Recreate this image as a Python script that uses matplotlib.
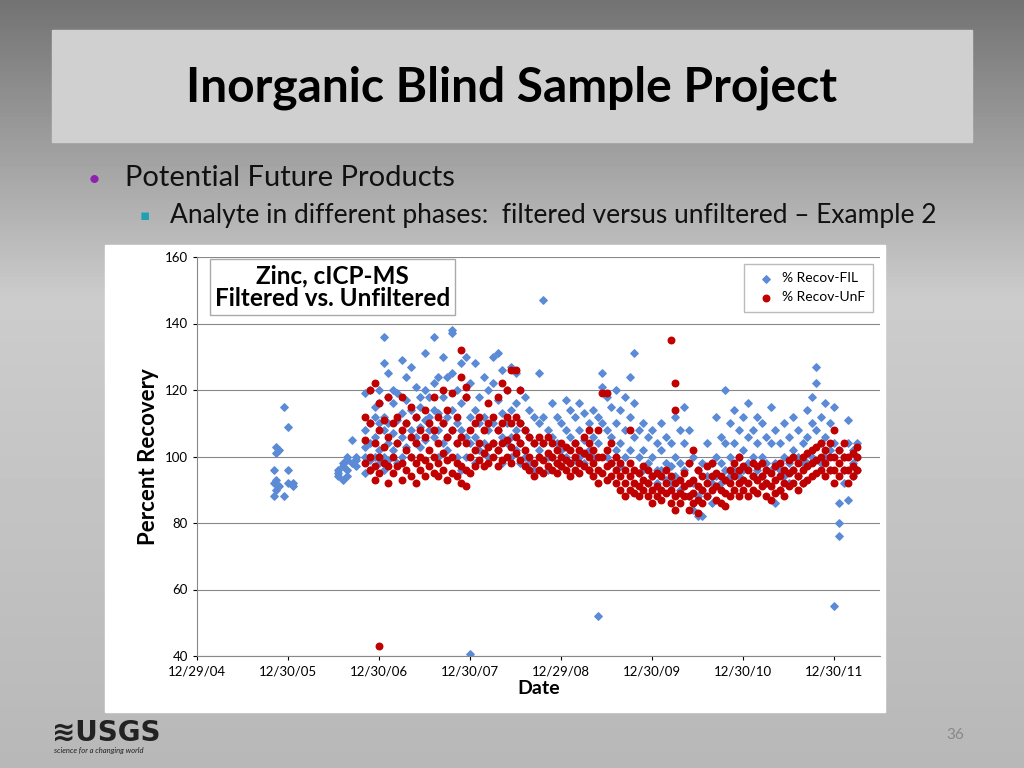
import matplotlib
matplotlib.use("Agg")
import matplotlib.pyplot as plt
import numpy as np
from matplotlib.patches import Rectangle

fil = [
(2005.85,[88,92,96]),(2005.87,[90,93,101,103]),(2005.9,[91,102]),(2005.95,[115,88]),(2006.0,[96,92,109]),(2006.05,[91,92]),
(2006.55,[94,96,95]),(2006.6,[97,93,98]),(2006.65,[100,96,94,99]),(2006.7,[105,98]),(2006.75,[97,99,100]),
(2006.85,[95,100,103,108,119]),(2006.9,[96,104,110,120,99]),(2006.95,[106,112,115,100]),(2007.0,[98,110,116,120,102]),
(2007.05,[136,128,112,108,100,96]),(2007.1,[118,110,104,99,125]),(2007.15,[116,107,102,120]),(2007.2,[119,111,104,98]),
(2007.25,[129,113,106,100]),(2007.3,[124,110,103,117]),(2007.35,[127,114,108,100]),(2007.4,[121,112,106,104]),
(2007.45,[115,109,103,118]),(2007.5,[131,120,111,105]),(2007.55,[118,112,108]),(2007.6,[136,122,114,106]),
(2007.65,[124,113,108,100]),(2007.7,[130,118,110,104]),(2007.75,[124,112,106,102]),(2007.8,[137,138,125,114,108]),
(2007.85,[120,110,104,100]),(2007.9,[128,116,108,96]),(2007.95,[130,118,106,100]),(2008.0,[122,112,104,40.5]),
(2008.05,[128,114,106,98]),(2008.1,[118,110,102]),(2008.15,[124,112,104]),(2008.2,[120,108,100]),
(2008.25,[130,122,110,104]),(2008.3,[131,117,108,102]),(2008.35,[126,113,106,98]),(2008.4,[120,110,104]),
(2008.45,[127,114,106,100]),(2008.5,[125,116,108,102]),(2008.55,[120,110,104,98]),(2008.6,[118,108,100]),
(2008.65,[114,106,98]),(2008.7,[112,104,96]),(2008.75,[125,110,102]),(2008.8,[147,112,104]),(2008.85,[108,100,96]),
(2008.9,[116,106,100]),(2008.95,[112,104,98]),(2009.0,[110,102,97]),(2009.05,[117,108,100]),(2009.1,[114,106,98]),
(2009.15,[112,104,99]),(2009.2,[116,108,100]),(2009.25,[113,105,98]),(2009.3,[110,102,96]),(2009.35,[114,106,100]),
(2009.4,[112,104,52]),(2009.45,[125,121,110]),(2009.5,[118,108,100]),(2009.55,[115,106,98]),(2009.6,[120,110,102]),
(2009.65,[114,104,97]),(2009.7,[118,108,100]),(2009.75,[124,112,102]),(2009.8,[131,116,106]),(2009.85,[108,100,95]),
(2009.9,[110,102,96]),(2009.95,[106,98,92]),(2010.0,[108,100,94]),(2010.05,[104,96,92]),(2010.1,[110,102,96]),
(2010.15,[106,98,93]),(2010.2,[104,97,92]),(2010.25,[112,100,94]),(2010.3,[108,98,90]),(2010.35,[115,104,96]),
(2010.4,[108,98,88]),(2010.45,[100,92,84]),(2010.5,[96,88,82]),(2010.55,[98,90,82]),(2010.6,[104,94,88]),
(2010.65,[98,92,86]),(2010.7,[112,100,94]),(2010.75,[106,98,92]),(2010.8,[120,104,96]),(2010.85,[110,100,94]),
(2010.9,[114,104,96]),(2010.95,[108,100,94]),(2011.0,[112,102,96]),(2011.05,[116,106,98]),(2011.1,[108,100,94]),
(2011.15,[112,104,96]),(2011.2,[110,100,94]),(2011.25,[106,98,92]),(2011.3,[115,104,96]),(2011.35,[108,98,86]),
(2011.4,[104,96,90]),(2011.45,[110,100,94]),(2011.5,[106,98,92]),(2011.55,[112,102,96]),(2011.6,[108,100,94]),
(2011.65,[104,98,92]),(2011.7,[114,106,98]),(2011.75,[118,110,100]),(2011.8,[127,122,108]),(2011.85,[112,104,98]),
(2011.9,[116,106,100]),(2011.95,[110,102,96]),(2012.0,[115,104,55]),(2012.05,[80,76,86,102]),(2012.1,[100,96,92]),
(2012.15,[111,104,87]),(2012.2,[102,98,94]),(2012.25,[104,100,96]),
]
unf = [
(2007.0,[43]),(2006.85,[98,105,112]),(2006.9,[96,100,110,120]),(2006.95,[93,97,104,122]),(2007.0,[95,100,108,116]),
(2007.05,[98,103,111]),(2007.1,[92,97,106,118]),(2007.15,[95,100,110]),(2007.2,[97,104,112]),(2007.25,[93,98,108,118]),
(2007.3,[96,102,110]),(2007.35,[94,100,106,115]),(2007.4,[92,98,104,112]),(2007.45,[96,100,108]),(2007.5,[94,99,106,114]),
(2007.55,[97,102,110]),(2007.6,[95,100,108,118]),(2007.65,[94,98,104,112]),(2007.7,[96,101,110,120]),
(2007.75,[93,99,106,114]),(2007.8,[95,100,108,119]),(2007.85,[94,98,104,112]),(2007.9,[92,97,106,132,124]),
(2007.95,[91,96,104,121,118]),(2008.0,[95,100,108]),(2008.05,[97,102,110]),(2008.1,[99,104,112]),(2008.15,[97,101,108]),
(2008.2,[98,103,110,116]),(2008.25,[100,104,112]),(2008.3,[97,102,108,118]),(2008.35,[99,104,110,122]),
(2008.4,[100,105,112,120]),(2008.45,[98,103,110,126]),(2008.5,[101,106,112,126]),(2008.55,[99,104,110,120]),
(2008.6,[97,102,108]),(2008.65,[96,100,106]),(2008.7,[94,98,104]),(2008.75,[96,100,106]),(2008.8,[95,99,104]),
(2008.85,[97,101,106]),(2008.9,[96,100,104]),(2008.95,[95,98,102]),(2009.0,[97,100,104]),(2009.05,[96,99,103]),
(2009.1,[94,98,102]),(2009.15,[96,100,104]),(2009.2,[95,98,102]),(2009.25,[97,101,106]),(2009.3,[96,100,104,108]),
(2009.35,[94,98,102]),(2009.4,[92,96,100,108]),(2009.45,[95,100,119]),(2009.5,[93,97,102,119]),(2009.55,[94,98,104]),
(2009.6,[92,96,100]),(2009.65,[90,94,98]),(2009.7,[88,92,96]),(2009.75,[90,94,98,108]),(2009.8,[89,92,96]),
(2009.85,[88,91,95]),(2009.9,[90,93,97]),(2009.95,[88,92,96]),(2010.0,[86,90,94]),(2010.05,[88,91,95]),
(2010.1,[87,90,94]),(2010.15,[89,92,96]),(2010.2,[86,90,94,135]),(2010.25,[84,88,92,122,114]),(2010.3,[86,89,93]),
(2010.35,[88,91,95]),(2010.4,[84,88,92,98]),(2010.45,[86,89,93,102]),(2010.5,[83,87,91,96]),(2010.55,[86,90,94]),
(2010.6,[88,92,97]),(2010.65,[90,94,98]),(2010.7,[87,91,95]),(2010.75,[86,90,94]),(2010.8,[85,89,93]),
(2010.85,[88,92,96]),(2010.9,[90,94,98]),(2010.95,[88,92,96,100]),(2011.0,[90,93,97]),(2011.05,[88,92,96]),
(2011.1,[90,94,98]),(2011.15,[89,93,97]),(2011.2,[91,94,98]),(2011.25,[88,92,96]),(2011.3,[87,91,95]),
(2011.35,[89,93,97]),(2011.4,[90,94,98]),(2011.45,[88,92,96]),(2011.5,[91,95,99]),(2011.55,[92,96,100]),
(2011.6,[90,94,98]),(2011.65,[92,96,100]),(2011.7,[93,97,101]),(2011.75,[94,98,102]),(2011.8,[95,99,103]),
(2011.85,[96,100,104]),(2011.9,[94,98,102]),(2011.95,[96,100,104]),(2012.0,[92,96,100,108]),(2012.05,[94,98,102]),
(2012.1,[96,100,104]),(2012.15,[92,96,100]),(2012.2,[94,97,101]),(2012.25,[96,100,103]),
]
tick_pos = [2005,2006,2007,2008,2009,2010,2011,2012]
tick_labels = ["12/29/04","12/30/05","12/30/06","12/30/07","12/29/08","12/30/09","12/30/10","12/30/11"]

def flat(s):
    xs, ys = [], []
    for x, vals in s:
        for v in vals:
            xs.append(x); ys.append(v)
    return xs, ys

plt.rcParams['font.family'] = ['Lato', 'DejaVu Sans']
W, H = 1024, 768
fig = plt.figure(figsize=(10.24, 7.68), dpi=100)
bg = fig.add_axes([0, 0, 1, 1]); bg.set_axis_off()
g = np.concatenate([np.linspace(0.45, 0.80, 300), np.linspace(0.80, 0.72, 468)])
bg.imshow(np.tile(g[:, None], (1, 10)), cmap="gray", vmin=0, vmax=1, aspect="auto", extent=[0, W, H, 0])
bg.set_xlim(0, W); bg.set_ylim(H, 0)
bg.add_patch(Rectangle((52, 30), 920, 112, color="#d0d0d0"))
bg.add_patch(Rectangle((105, 245), 780, 467, color="white"))
bg.text(512, 88, "Inorganic Blind Sample Project", ha="center", va="center", fontsize=34.5, fontweight="bold", color="black")
bg.text(88, 180, "•", color="#9020b0", fontsize=16, va="center")
bg.text(125, 178, "Potential Future Products", fontsize=21, va="center", color="#111")
bg.text(140, 215, "▪", color="#20a0b0", fontsize=11, va="center", family="DejaVu Sans")
bg.text(170, 215, "Analyte in different phases:  filtered versus unfiltered – Example 2", fontsize=19, va="center", color="#111")
bg.text(955, 735, "36", fontsize=11, color="#888", ha="center", va="center")
bg.text(52, 733, "≋USGS", fontsize=20, fontweight="bold", color="#222", va="center", family="DejaVu Sans")
bg.text(54, 750, "science for a changing world", fontsize=5.5, style="italic", color="#222", va="center")

ax = fig.add_axes([197/W, 1-656/H, 683/W, 399/H])
ax.set_xlim(2005, 2012.5); ax.set_ylim(40, 160)
ax.set_yticks(range(40, 161, 20))
ax.set_xticks(tick_pos); ax.set_xticklabels(tick_labels)
ax.tick_params(labelsize=9.5, length=3)
ax.grid(axis="y", color="#888", lw=0.8); ax.set_axisbelow(True)
for s in ["top", "right"]: ax.spines[s].set_visible(False)
ax.spines["left"].set_color("#888"); ax.spines["bottom"].set_color("#888")
xf, yf = flat(fil); xu, yu = flat(unf)
ax.scatter(xf, yf, marker="D", s=14, color="#5b8ad6", label="% Recov-FIL", zorder=2)
ax.scatter(xu, yu, marker="o", s=22, color="#c00000", label="% Recov-UnF", zorder=3)
ax.set_xlabel("Date", fontsize=14, fontweight="bold", labelpad=2)
ax.set_ylabel("Percent Recovery", fontsize=16, fontweight="bold")
leg = ax.legend(loc="upper right", fontsize=10, frameon=True, fancybox=False, handletextpad=0.1, borderpad=0.6, bbox_to_anchor=(1.0, 1.0))
leg.get_frame().set_edgecolor("#aaa")
ax.text(0.198, 0.982, "Zinc, cICP-MS\nFiltered vs. Unfiltered", transform=ax.transAxes, ha="center", va="top",
        fontsize=17.5, fontweight="bold", linespacing=1.0,
        bbox=dict(boxstyle="square,pad=0.2", fc="white", ec="#aaa"))
fig.savefig("out.png", dpi=100)
